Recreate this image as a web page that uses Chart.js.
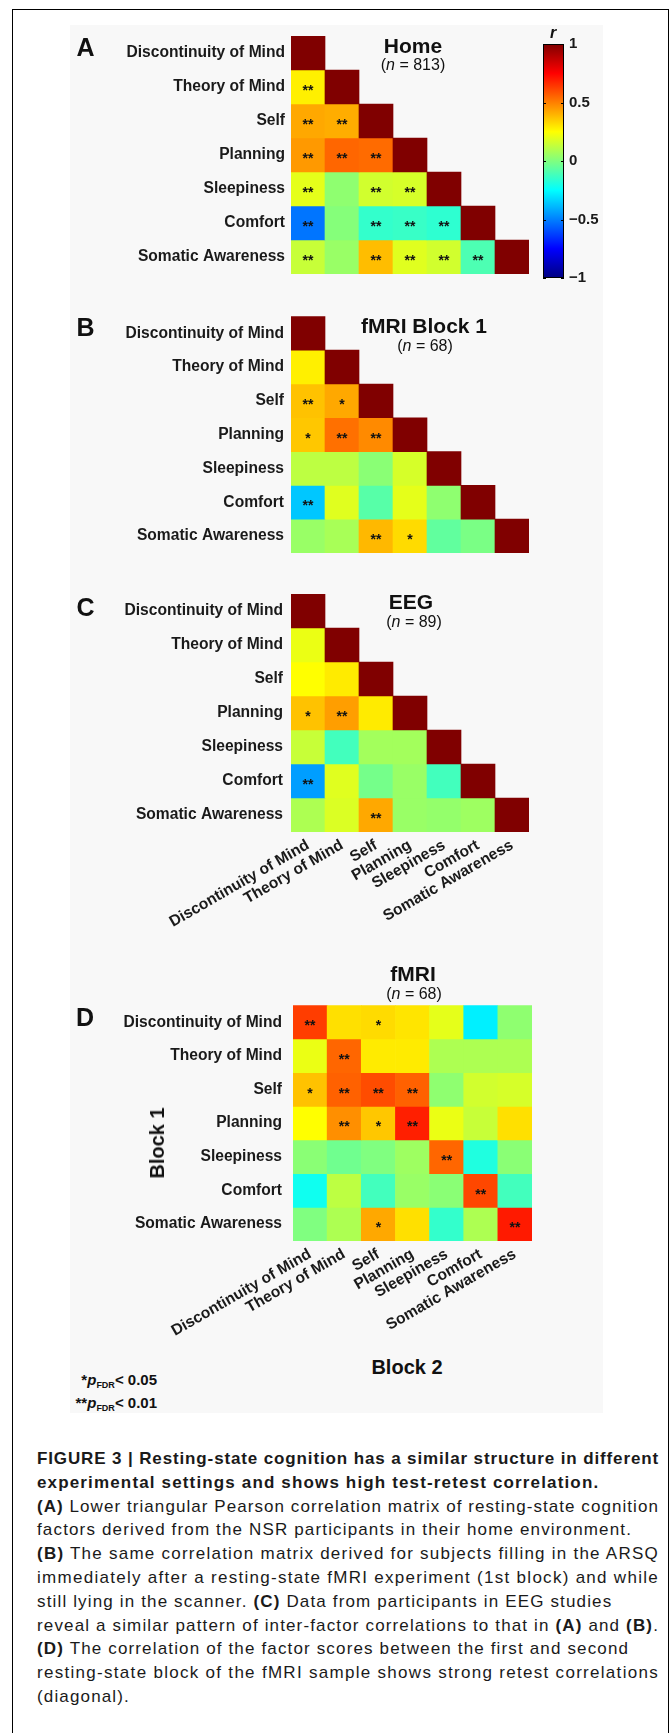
<!DOCTYPE html>
<html>
<head>
<meta charset="utf-8">
<script src="https://cdn.jsdelivr.net/npm/chart.js@4.4.1/dist/chart.umd.min.js"></script>
<style>
html,body{margin:0;padding:0;background:#fff;}
body{position:relative;width:672px;height:1733px;overflow:hidden;font-family:"Liberation Sans",Arial,sans-serif;color:#111;}
#ramme{position:absolute;left:12px;top:9px;width:655px;height:1760px;border:1.5px solid #000;}
#figur{position:absolute;left:70px;top:25px;width:533px;height:1388px;background:#f8f8f8;}
canvas{position:absolute;}
.t{position:absolute;white-space:nowrap;transform:translate(-50%,-50%);line-height:1;}
.bokstav{font-weight:bold;font-size:25px;}
.tittel{font-weight:bold;font-size:21px;}
.n{font-size:16px;}
.akse{font-weight:bold;font-size:20px;}
#forklaring{position:absolute;right:515px;top:1371px;text-align:right;font-weight:bold;font-size:15px;line-height:18px;white-space:nowrap;}
#forklaring sub{font-size:9px;vertical-align:-3px;}
#tekst{position:absolute;left:37px;top:1447px;width:622px;font-family:"Liberation Sans",Arial,sans-serif;font-size:17px;line-height:23.8px;color:#1a1a1a;}
#tekst .l{white-space:nowrap;}
#tekst .l span{display:inline-block;white-space:nowrap;}
</style>
</head>
<body>
<div id="ramme"></div>
<div id="figur"></div>

<canvas id="kartA" width="480" height="270" style="left:60px;top:20px"></canvas>
<canvas id="skala" width="120" height="280" style="left:520px;top:20px"></canvas>
<canvas id="kartB" width="480" height="270" style="left:60px;top:300px"></canvas>
<canvas id="kartC" width="480" height="400" style="left:60px;top:570px"></canvas>
<canvas id="kartD" width="480" height="365" style="left:60px;top:985px"></canvas>

<!-- bokstaver og titler -->
<div class="t bokstav" style="left:85.5px;top:47px">A</div>
<div class="t tittel" style="left:413px;top:45px">Home</div>
<div class="t n" style="left:413px;top:65px">(<i>n</i> = 813)</div>
<div class="t" style="left:553px;top:33px;font-weight:bold;font-style:italic;font-size:16px">r</div>

<div class="t bokstav" style="left:85.5px;top:327px">B</div>
<div class="t tittel" style="left:424px;top:325px">fMRI Block 1</div>
<div class="t n" style="left:425px;top:346px">(<i>n</i> = 68)</div>

<div class="t bokstav" style="left:85.5px;top:607px">C</div>
<div class="t tittel" style="left:411px;top:601px">EEG</div>
<div class="t n" style="left:414px;top:622px">(<i>n</i> = 89)</div>

<div class="t bokstav" style="left:85px;top:1017px">D</div>
<div class="t tittel" style="left:413px;top:973px">fMRI</div>
<div class="t n" style="left:414px;top:994px">(<i>n</i> = 68)</div>
<div class="t akse" style="left:157px;top:1143px;transform:translate(-50%,-50%) rotate(-90deg)">Block 1</div>
<div class="t akse" style="left:407px;top:1367px">Block 2</div>

<div id="forklaring">*<i>p</i><sub>FDR</sub>&lt; 0.05<br>**<i>p</i><sub>FDR</sub>&lt; 0.01</div>

<div id="tekst">
<div class="l full"><span><b>FIGURE 3 | Resting-state cognition has a similar structure in different</b></span></div>
<div class="l"><span><b>experimental settings and shows high test-retest correlation.</b></span></div>
<div class="l full"><span><b>(A)</b> Lower triangular Pearson correlation matrix of resting-state cognition</span></div>
<div class="l"><span>factors derived from the NSR participants in their home environment.</span></div>
<div class="l full"><span><b>(B)</b> The same correlation matrix derived for subjects filling in the ARSQ</span></div>
<div class="l full"><span>immediately after a resting-state fMRI experiment (1st block) and while</span></div>
<div class="l"><span>still lying in the scanner. <b>(C)</b> Data from participants in EEG studies</span></div>
<div class="l full"><span>reveal a similar pattern of inter-factor correlations to that in <b>(A)</b> and <b>(B)</b>.</span></div>
<div class="l"><span><b>(D)</b> The correlation of the factor scores between the first and second</span></div>
<div class="l full"><span>resting-state block of the fMRI sample shows strong retest correlations</span></div>
<div class="l"><span>(diagonal).</span></div>
</div>

<script>
// faktorene (rader og kolonner)
const faktorer = ['Discontinuity of Mind','Theory of Mind','Self','Planning','Sleepiness','Comfort','Somatic Awareness'];

// A: hjemme (n = 813), nedre trekant
const homeR = [
  [1],
  [0.28, 1],
  [0.42, 0.41, 1],
  [0.45, 0.55, 0.54, 1],
  [0.20, 0.03, 0.16, 0.17, 1],
  [-0.52, 0.01, -0.15, -0.14, -0.16, 1],
  [0.14, 0.05, 0.38, 0.19, 0.16, -0.10, 1]
];
const homeSig = [
  [''],
  ['**',''],
  ['**','**',''],
  ['**','**','**',''],
  ['**','','**','**',''],
  ['**','','**','**','**',''],
  ['**','','**','**','**','**','']
];

// B: fMRI blokk 1 (n = 68)
const blokkR = [
  [1],
  [0.28, 1],
  [0.37, 0.42, 1],
  [0.36, 0.53, 0.48, 1],
  [0.12, 0.12, 0.02, 0.17, 1],
  [-0.36, 0.19, -0.08, 0.20, 0.03, 1],
  [0.05, 0.08, 0.39, 0.32, -0.06, -0.01, 1]
];
const blokkSig = [
  [''],
  ['',''],
  ['**','*',''],
  ['*','**','**',''],
  ['','','','',''],
  ['**','','','','',''],
  ['','','**','*','','','']
];

// C: EEG (n = 89)
const eegR = [
  [1],
  [0.21, 1],
  [0.25, 0.29, 1],
  [0.37, 0.44, 0.29, 1],
  [0.14, -0.12, 0.07, 0.07, 1],
  [-0.44, 0.19, -0.02, 0.05, -0.12, 1],
  [0.09, 0.18, 0.42, 0.05, 0.04, 0.06, 1]
];
const eegSig = [
  [''],
  ['',''],
  ['','',''],
  ['*','**','',''],
  ['','','','',''],
  ['**','','','','',''],
  ['','','**','','','','']
];

// D: fMRI blokk 1 (rader) mot blokk 2 (kolonner)
const retestR = [
  [0.63, 0.31, 0.32, 0.30, 0.20, -0.28, 0.03],
  [0.21, 0.55, 0.29, 0.29, 0.09, 0.09, 0.09],
  [0.37, 0.56, 0.60, 0.56, 0.03, 0.16, 0.17],
  [0.25, 0.47, 0.36, 0.69, 0.21, 0.14, 0.31],
  [0.02, -0.03, 0.00, 0.06, 0.55, -0.19, 0.02],
  [-0.22, 0.12, -0.12, 0.05, 0.02, 0.61, -0.12],
  [0.00, 0.09, 0.42, 0.31, -0.15, 0.09, 0.70]
];
const retestSig = [
  ['**','','*','','','',''],
  ['','**','','','','',''],
  ['*','**','**','**','','',''],
  ['','**','*','**','','',''],
  ['','','','','**','',''],
  ['','','','','','**',''],
  ['','','*','','','','**']
];

// fargeskala
const skalaTicks = [-1, -0.5, 0, 0.5, 1];

Chart.defaults.font.family = '"Liberation Sans", Arial, sans-serif';
const etikettFont = {weight:'bold', size:15.6};

// jet fargekart, r fra -1 til 1
function jet(v){
  const t = (v + 1) / 2;
  const k = x => Math.round(255 * Math.max(0, Math.min(1, x)));
  const r = k(Math.min(4*t - 1.5, -4*t + 4.5));
  const g = k(Math.min(4*t - 0.5, -4*t + 3.5));
  const b = k(Math.min(4*t + 0.5, -4*t + 2.5));
  return 'rgb(' + r + ',' + g + ',' + b + ')';
}

// tegner stjernene midt i cellene
const stjernePlugin = {
  id:'stjerner',
  afterDatasetsDraw(chart, args, opts){
    if(!opts.sig) return;
    const {ctx, scales:{x, y}} = chart;
    ctx.save();
    ctx.font = 'bold 14px "Liberation Sans", Arial';
    ctx.fillStyle = '#111';
    ctx.textAlign = 'center';
    ctx.textBaseline = 'alphabetic';
    opts.sig.forEach((rad, i) => rad.forEach((s, j) => {
      if(!s) return;
      ctx.fillText(s, x.getPixelForValue(j), y.getPixelForValue(i + 0.5) + 8);
    }));
    ctx.restore();
  }
};

function matrise(id, verdier, sig, o){
  const datasett = faktorer.map((f, i) => ({
    label: f,
    data: faktorer.map((_, j) => verdier[i][j] === undefined ? null : [i, i + 1]),
    backgroundColor: faktorer.map((_, j) => verdier[i][j] === undefined ? 'rgba(0,0,0,0)' : jet(verdier[i][j])),
    grouped: false, barPercentage: 1, categoryPercentage: 1, borderWidth: 0
  }));
  return new Chart(document.getElementById(id), {
    type: 'bar',
    data: {labels: faktorer, datasets: datasett},
    plugins: [stjernePlugin],
    options: {
      responsive: false, animation: false, events: [], devicePixelRatio: 1,
      layout: {padding: o.pad},
      plugins: {legend: {display:false}, tooltip: {enabled:false}, stjerner: {sig: sig}},
      scales: {
        x: {
          type: 'category', offset: true, display: o.xAkse,
          grid: {display:false, drawTicks:false}, border: {display:false},
          ticks: {autoSkip:false, minRotation:30, maxRotation:30, padding:o.xPad || 0, font:etikettFont, color:'#1a1a1a'},
          afterFit: s => { if(o.xAkse) s.height = o.xH; }
        },
        y: {
          type: 'linear', min: 0, max: 7, reverse: true,
          grid: {display:false, drawTicks:false}, border: {display:false},
          afterBuildTicks: s => { s.ticks = faktorer.map((_, i) => ({value: i + 0.5})); },
          ticks: {callback: v => faktorer[Math.floor(v)], padding: o.yPad, font: etikettFont, color: '#1a1a1a'},
          afterFit: s => { s.width = o.yW; }
        }
      }
    }
  });
}

matrise('kartA', homeR, homeSig, {pad:{left:0, right:11, top:16, bottom:16}, yW:231, yPad:6, xAkse:false});
matrise('kartB', blokkR, blokkSig, {pad:{left:0, right:11, top:15, bottom:17}, yW:231, yPad:7, xAkse:false});
matrise('kartC', eegR, eegSig, {pad:{left:0, right:11, top:24, bottom:0}, yW:231, yPad:8, xAkse:true, xH:138, xPad:4});
matrise('kartD', retestR, retestSig, {pad:{left:0, right:8, top:18, bottom:0}, yW:233, yPad:11, xAkse:true, xH:109, xPad:4});

// fargeskala med ramme og små streker
const rammePlugin = {
  id:'skalaramme',
  afterDatasetsDraw(chart){
    const {ctx, chartArea:a, scales:{y}} = chart;
    ctx.save();
    ctx.strokeStyle = '#000';
    ctx.lineWidth = 1;
    ctx.strokeRect(a.left + 0.5, a.top + 0.5, a.right - a.left - 1, a.bottom - a.top - 1);
    skalaTicks.forEach(v => {
      const py = Math.round(y.getPixelForValue(v)) + 0.5;
      ctx.beginPath();
      ctx.moveTo(a.left, py); ctx.lineTo(a.left + 3, py);
      ctx.moveTo(a.right, py); ctx.lineTo(a.right - 3, py);
      ctx.stroke();
    });
    ctx.restore();
  }
};

new Chart(document.getElementById('skala'), {
  type: 'bar',
  data: {labels: ['r'], datasets: [{
    data: [[skalaTicks[0], skalaTicks[skalaTicks.length - 1]]],
    backgroundColor: c => {
      const ch = c.chart, ys = ch.scales.y;
      if(!ch.chartArea || !ys) return jet(0);
      const y0 = ys.getPixelForValue(-1), y1 = ys.getPixelForValue(1);
      if(!isFinite(y0) || !isFinite(y1)) return jet(0);
      const g = ch.ctx.createLinearGradient(0, y0, 0, y1);
      [0, 0.125, 0.375, 0.625, 0.875, 1].forEach(s => g.addColorStop(s, jet(s * 2 - 1)));
      return g;
    },
    barPercentage: 1, categoryPercentage: 1, borderWidth: 0
  }]},
  plugins: [rammePlugin],
  options: {
    responsive: false, animation: false, events: [], devicePixelRatio: 1,
    layout: {padding: {left:23, right:0, top:24, bottom:22}},
    plugins: {legend: {display:false}, tooltip: {enabled:false}},
    scales: {
      x: {display:false, offset:true},
      y: {
        position: 'right', min: -1, max: 1,
        grid: {display:false, drawTicks:false}, border: {display:false},
        afterBuildTicks: s => { s.ticks = skalaTicks.map(v => ({value: v})); },
        ticks: {callback: v => v < 0 ? '\u2212' + Math.abs(v) : String(v), padding: 5, font: {weight:'bold', size:15}, color: '#1a1a1a'},
        afterFit: s => { s.width = 76; }
      }
    }
  }
});

// figurteksten: fyll hele bredden på de fulle linjene
const bredde = 622;
const linjer = [...document.querySelectorAll('#tekst .l span')];
let sum = 0, antall = 0;
linjer.forEach(sp => {
  if(!sp.parentNode.classList.contains('full')) return;
  const w = sp.getBoundingClientRect().width;
  const ls = (bredde - w) / sp.textContent.length;
  sp.style.letterSpacing = ls + 'px';
  sum += ls; antall++;
});
const snitt = antall ? sum / antall : 0;
linjer.forEach(sp => {
  if(!sp.parentNode.classList.contains('full')) sp.style.letterSpacing = snitt + 'px';
});
</script>
</body>
</html>
